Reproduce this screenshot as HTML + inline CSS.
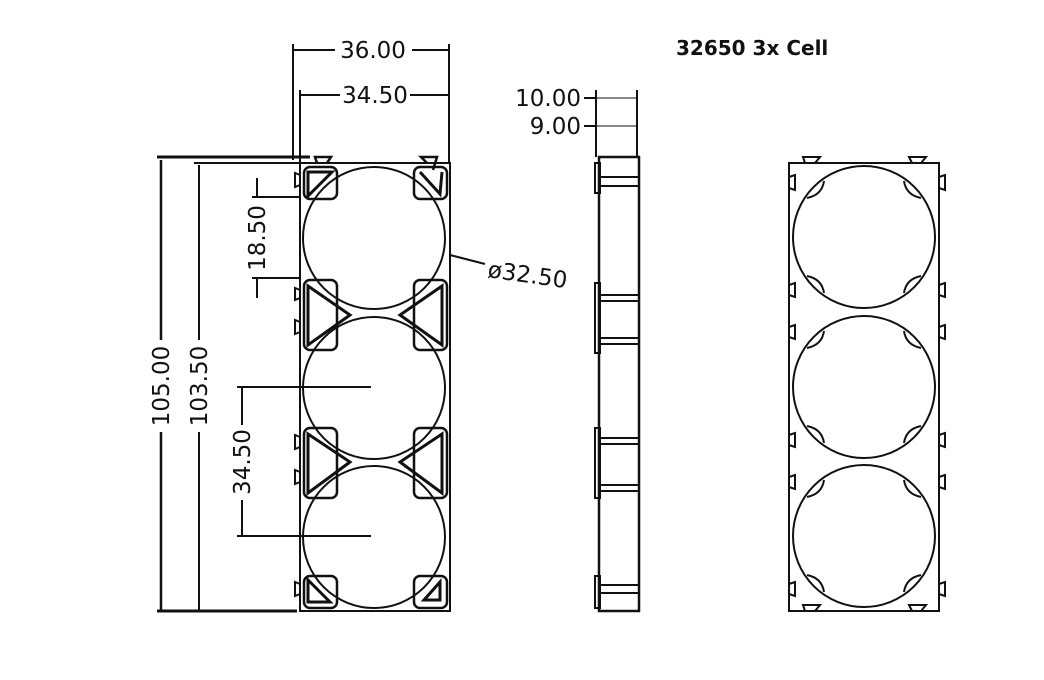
<!DOCTYPE html>
<html><head><meta charset="utf-8"><style>
body{margin:0;background:#fff;width:1044px;height:680px;overflow:hidden}
svg{display:block}
text{font-family:"DejaVu Sans","Liberation Sans",sans-serif;fill:#111}
</style></head><body>
<svg width="1044" height="680" viewBox="0 0 1044 680" xmlns="http://www.w3.org/2000/svg">
<g stroke="#111" fill="none" stroke-width="2">
<rect x="300" y="163" width="150" height="448"/>
<circle cx="374" cy="238" r="71"/>
<circle cx="374" cy="388" r="71"/>
<circle cx="374" cy="537" r="71"/>
<g stroke-width="2.5">
<rect x="304" y="167" width="33" height="32" rx="6"/>
<rect x="414" y="167" width="33" height="32" rx="6"/>
<rect x="304" y="280" width="33" height="70" rx="6"/>
<rect x="414" y="280" width="33" height="70" rx="6"/>
<rect x="304" y="428" width="33" height="70" rx="6"/>
<rect x="414" y="428" width="33" height="70" rx="6"/>
<rect x="304" y="576" width="33" height="32" rx="6"/>
<rect x="414" y="576" width="33" height="32" rx="6"/>
<path d="M308 172 L332 172 L308 196 Z" stroke-width="3"/>
<path d="M420 172 L440 194 L442 172" stroke-width="3"/>
<path d="M308 286 L350 315 L308 345 Z" stroke-width="3"/>
<path d="M442 286 L400 315 L442 345 Z" stroke-width="3"/>
<path d="M308 434 L350 462 L308 493 Z" stroke-width="3"/>
<path d="M442 434 L400 462 L442 493 Z" stroke-width="3"/>
<path d="M308 580 L308 602 L330 602 Z" stroke-width="3"/>
<path d="M440 582 L440 600 L424 600 Z" stroke-width="3"/>
<path d="M317 163 L315 157 L331 157 L327 163"/>
<path d="M427 163 L421 157 L437 157 L433 170"/>
</g>
<path d="M300 175 L295 173 L295 187 L300 185"/>
<path d="M300 290 L295 288 L295 300 L300 298"/>
<path d="M300 322 L295 320 L295 334 L300 332"/>
<path d="M300 437 L295 435 L295 449 L300 447"/>
<path d="M300 472 L295 470 L295 484 L300 482"/>
<path d="M300 584 L295 582 L295 596 L300 594"/>
<g stroke-width="2">
<line x1="293" y1="44" x2="293" y2="160"/>
<line x1="449" y1="44" x2="449" y2="163"/>
<line x1="293" y1="50" x2="335" y2="50"/>
<line x1="412" y1="50" x2="449" y2="50"/>
<line x1="300" y1="90" x2="300" y2="163"/>
<line x1="300" y1="95" x2="340" y2="95"/>
<line x1="410" y1="95" x2="449" y2="95"/>
<line x1="194" y1="163" x2="300" y2="163"/>
<line x1="199" y1="165" x2="199" y2="340"/>
<line x1="199" y1="432" x2="199" y2="610"/>
<line x1="252" y1="197" x2="300" y2="197"/>
<line x1="252" y1="278" x2="300" y2="278"/>
<line x1="257" y1="178" x2="257" y2="197"/>
<line x1="257" y1="278" x2="257" y2="298"/>
<line x1="237" y1="387" x2="371" y2="387"/>
<line x1="237" y1="536" x2="371" y2="536"/>
<line x1="242" y1="387" x2="242" y2="425"/>
<line x1="242" y1="500" x2="242" y2="536"/>
<line x1="450" y1="255" x2="485" y2="264"/>
</g>
<line x1="157" y1="157" x2="310" y2="157" stroke-width="3"/>
<line x1="157" y1="611" x2="297" y2="611" stroke-width="3"/>
<line x1="161" y1="160" x2="161" y2="340" stroke-width="2.5"/>
<line x1="161" y1="432" x2="161" y2="610" stroke-width="2.5"/>
<line x1="596" y1="90" x2="596" y2="157" stroke-width="2"/>
<line x1="637" y1="90" x2="637" y2="157" stroke-width="2"/>
<line x1="584" y1="98" x2="596" y2="98" stroke-width="2"/>
<line x1="584" y1="126" x2="596" y2="126" stroke-width="2"/>
<line x1="596" y1="98" x2="637" y2="98" stroke-width="1"/>
<line x1="596" y1="126" x2="637" y2="126" stroke-width="1"/>
<rect x="599" y="157" width="40" height="454" stroke-width="2.5"/>
<rect x="595" y="163" width="5" height="30"/>
<rect x="595" y="283" width="5" height="70"/>
<rect x="595" y="428" width="5" height="70"/>
<rect x="595" y="576" width="5" height="32"/>
<line x1="599" y1="177" x2="639" y2="177" stroke-width="2"/>
<line x1="599" y1="186" x2="639" y2="186" stroke-width="2"/>
<line x1="599" y1="295" x2="639" y2="295" stroke-width="2"/>
<line x1="599" y1="301" x2="639" y2="301" stroke-width="2"/>
<line x1="599" y1="338" x2="639" y2="338" stroke-width="2"/>
<line x1="599" y1="344" x2="639" y2="344" stroke-width="2"/>
<line x1="599" y1="438" x2="639" y2="438" stroke-width="2"/>
<line x1="599" y1="444" x2="639" y2="444" stroke-width="2"/>
<line x1="599" y1="485" x2="639" y2="485" stroke-width="2"/>
<line x1="599" y1="491" x2="639" y2="491" stroke-width="2"/>
<line x1="599" y1="585" x2="639" y2="585" stroke-width="2"/>
<line x1="599" y1="593" x2="639" y2="593" stroke-width="2"/>
<rect x="789" y="163" width="150" height="448" stroke-width="2"/>
<circle cx="864" cy="237" r="71"/>
<circle cx="864" cy="387" r="71"/>
<circle cx="864" cy="536" r="71"/>
<g stroke-width="2">
<path d="M805 163 L803 157 L820 157 L815 163"/>
<path d="M912 163 L909 157 L926 157 L921 163"/>
<path d="M805 611 L803 605 L820 605 L815 611"/>
<path d="M912 611 L909 605 L926 605 L921 611"/>
<path d="M789 177 L795 175 L795 190 L789 188"/>
<path d="M789 285 L795 283 L795 297 L789 295"/>
<path d="M789 327 L795 325 L795 339 L789 337"/>
<path d="M789 435 L795 433 L795 447 L789 445"/>
<path d="M789 477 L795 475 L795 489 L789 487"/>
<path d="M789 584 L795 582 L795 596 L789 594"/>
<path d="M939 177 L945 175 L945 190 L939 188"/>
<path d="M939 285 L945 283 L945 297 L939 295"/>
<path d="M939 327 L945 325 L945 339 L939 337"/>
<path d="M939 435 L945 433 L945 447 L939 445"/>
<path d="M939 477 L945 475 L945 489 L939 487"/>
<path d="M939 584 L945 582 L945 596 L939 594"/>
<path d="M807 198 Q822 195 824 181"/><path d="M921 198 Q906 195 904 181"/>
<path d="M807 276 Q822 279 824 293"/><path d="M921 276 Q906 279 904 293"/>
<path d="M807 348 Q822 345 824 331"/><path d="M921 348 Q906 345 904 331"/>
<path d="M807 426 Q822 429 824 443"/><path d="M921 426 Q906 429 904 443"/>
<path d="M807 497 Q822 494 824 480"/><path d="M921 497 Q906 494 904 480"/>
<path d="M807 575 Q822 578 824 592"/><path d="M921 575 Q906 578 904 592"/>
</g>
</g>
<g font-size="23">
<text x="373" y="58" text-anchor="middle">36.00</text>
<text x="375" y="103" text-anchor="middle">34.50</text>
<text x="581" y="106" text-anchor="end">10.00</text>
<text x="581" y="134" text-anchor="end">9.00</text>
<text transform="translate(169,386) rotate(-90)" text-anchor="middle">105.00</text>
<text transform="translate(207,386) rotate(-90)" text-anchor="middle">103.50</text>
<text transform="translate(265,238) rotate(-90)" text-anchor="middle">18.50</text>
<text transform="translate(250,462) rotate(-90)" text-anchor="middle">34.50</text>
<text transform="translate(487,277) rotate(8)">ø32.50</text>
</g>
<text x="676" y="55" font-family="Liberation Sans,sans-serif" font-weight="bold" font-size="20">32650 3x Cell</text>
</svg>
</body></html>
